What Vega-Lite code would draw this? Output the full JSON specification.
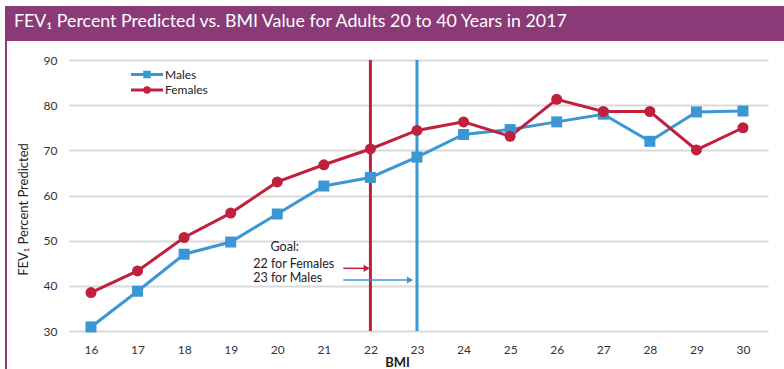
{
  "$schema": "https://vega.github.io/schema/vega-lite/v6.json",
  "padding": {"left": 5, "top": 6, "right": 0, "bottom": 0},
  "background": "white",
  "config": {
    "view": {"stroke": null},
    "font": "Lato",
    "concat": {"spacing": 0}
  },
  "datasets": {
    "fev": [
      {"bmi": 16, "sex": "Males", "fev": 30.9},
      {"bmi": 17, "sex": "Males", "fev": 38.8},
      {"bmi": 18, "sex": "Males", "fev": 47.0},
      {"bmi": 19, "sex": "Males", "fev": 49.7},
      {"bmi": 20, "sex": "Males", "fev": 55.9},
      {"bmi": 21, "sex": "Males", "fev": 62.1},
      {"bmi": 22, "sex": "Males", "fev": 64.0},
      {"bmi": 23, "sex": "Males", "fev": 68.5},
      {"bmi": 24, "sex": "Males", "fev": 73.5},
      {"bmi": 25, "sex": "Males", "fev": 74.6},
      {"bmi": 26, "sex": "Males", "fev": 76.3},
      {"bmi": 27, "sex": "Males", "fev": 78.0},
      {"bmi": 28, "sex": "Males", "fev": 72.0},
      {"bmi": 29, "sex": "Males", "fev": 78.5},
      {"bmi": 30, "sex": "Males", "fev": 78.7},
      {"bmi": 16, "sex": "Females", "fev": 38.5},
      {"bmi": 17, "sex": "Females", "fev": 43.3},
      {"bmi": 18, "sex": "Females", "fev": 50.7},
      {"bmi": 19, "sex": "Females", "fev": 56.1},
      {"bmi": 20, "sex": "Females", "fev": 63.0},
      {"bmi": 21, "sex": "Females", "fev": 66.8},
      {"bmi": 22, "sex": "Females", "fev": 70.3},
      {"bmi": 23, "sex": "Females", "fev": 74.4},
      {"bmi": 24, "sex": "Females", "fev": 76.3},
      {"bmi": 25, "sex": "Females", "fev": 73.1},
      {"bmi": 26, "sex": "Females", "fev": 81.3},
      {"bmi": 27, "sex": "Females", "fev": 78.6},
      {"bmi": 28, "sex": "Females", "fev": 78.6},
      {"bmi": 29, "sex": "Females", "fev": 70.1},
      {"bmi": 30, "sex": "Females", "fev": 75.0}
    ],
    "goals": [
      {"sex": "Females", "bmi": 22},
      {"sex": "Males", "bmi": 23}
    ],
    "arrows": [
      {"sex": "Females", "x1": 21.418, "x2": 21.92, "y": 43.87},
      {"sex": "Males", "x1": 21.418, "x2": 22.85, "y": 41.28}
    ],
    "notes": [
      {"t": "Goal:", "x": 19.856, "y": 47.78},
      {"t": "22 for Females", "x": 19.483, "y": 43.95},
      {"t": "23 for Males", "x": 19.483, "y": 40.85}
    ]
  },
  "spacing": 0,
  "bounds": "flush",
  "resolve": {"scale": {"color": "independent", "shape": "independent", "stroke": "independent"}, "legend": {"color": "independent", "shape": "independent", "stroke": "independent"}},
  "vconcat": [
    {
      "width": 779,
      "height": 35,
      "view": {"fill": "#8b3a78", "stroke": null},
      "title": {
        "text": "FEV₁ Percent Predicted vs. BMI Value for Adults 20 to 40 Years in 2017",
        "anchor": "start",
        "frame": "group",
        "orient": "top",
        "offset": -39,
        "dx": 9,
        "baseline": "alphabetic",
        "color": "white",
        "fontSize": 17.8,
        "font": "Lato",
        "fontWeight": "normal"
      },
      "data": {"values": []},
      "mark": "rect",
      "encoding": {}
    },
    {
      "spacing": 10,
      "resolve": {"scale": {"color": "independent", "shape": "independent", "stroke": "independent"}, "legend": {"color": "independent", "shape": "independent", "stroke": "independent"}},
      "hconcat": [
        {
          "width": 2,
          "height": 328,
          "view": {"fill": "#8b3a78", "stroke": null},
          "data": {"values": []},
          "mark": "rect",
          "encoding": {}
        },
        {
          "spacing": 0,
          "bounds": "flush",
          "resolve": {"scale": {"color": "independent", "shape": "independent", "stroke": "independent"}, "legend": {"color": "independent", "shape": "independent", "stroke": "independent"}},
          "vconcat": [
            {
              "width": 1,
              "height": 19,
              "data": {"values": []},
              "mark": "rect",
              "encoding": {}
            },
            {
              "width": 699,
              "height": 271,
              "layer": [
                {
                  "data": {"name": "goals"},
                  "mark": {"type": "rule", "strokeWidth": 3},
                  "encoding": {
                    "x": {
                      "field": "bmi", "type": "quantitative",
                      "scale": {"domain": [15.528, 30.537], "nice": false, "zero": false},
                      "axis": {
                        "values": [16, 17, 18, 19, 20, 21, 22, 23, 24, 25, 26, 27, 28, 29, 30],
                        "grid": false, "domain": false, "ticks": false, "tickSize": 0,
                        "labelPadding": 13, "labelFontSize": 12, "labelColor": "#333",
                        "title": "BMI", "titleFontSize": 13, "titleFontWeight": "bold",
                        "titleColor": "#222", "titleX": 328, "titleY": 35, "titleBaseline": "alphabetic"
                      }
                    },
                    "color": {
                      "field": "sex", "type": "nominal",
                      "scale": {"domain": ["Females", "Males"], "range": ["#c0203c", "#3b97d3"]},
                      "legend": null
                    }
                  }
                },
                {
                  "data": {"name": "arrows"},
                  "mark": {"type": "rule", "strokeWidth": 1.5},
                  "encoding": {
                    "x": {"field": "x1", "type": "quantitative"},
                    "x2": {"field": "x2"},
                    "y": {"field": "y", "type": "quantitative"},
                    "color": {"field": "sex", "type": "nominal", "legend": null}
                  }
                },
                {
                  "data": {"name": "arrows"},
                  "mark": {"type": "point", "shape": "triangle-right", "filled": true, "size": 50, "opacity": 1},
                  "encoding": {
                    "x": {"field": "x2", "type": "quantitative"},
                    "y": {"field": "y", "type": "quantitative"},
                    "color": {"field": "sex", "type": "nominal", "legend": null}
                  }
                },
                {
                  "data": {"name": "fev"},
                  "mark": {"type": "line", "strokeWidth": 3},
                  "encoding": {
                    "x": {"field": "bmi", "type": "quantitative"},
                    "y": {
                      "field": "fev", "type": "quantitative",
                      "scale": {"domain": [30, 90], "nice": false, "zero": false},
                      "axis": {
                        "values": [30, 40, 50, 60, 70, 80, 90],
                        "grid": true, "gridColor": "#dadada", "gridWidth": 2,
                        "domain": false, "ticks": false, "tickSize": 0,
                        "labelPadding": 12, "labelFontSize": 12, "labelColor": "#333",
                        "title": "FEV₁ Percent Predicted", "titleFontSize": 13,
                        "titleFontWeight": "normal", "titleColor": "#222",
                        "titlePadding": 13, "titleY": 149
                      }
                    },
                    "stroke": {
                      "field": "sex", "type": "nominal",
                      "scale": {"domain": ["Males", "Females"], "range": ["#3b97d3", "#c0203c"]},
                      "legend": {
                        "orient": "none", "legendX": 71.5, "legendY": 8,
                        "title": null, "labelFontSize": 12, "labelColor": "#222",
                        "symbolSize": 100, "symbolStrokeWidth": 3,
                        "labelOffset": 11.5, "rowPadding": -1.5, "padding": 0,
                        "encode": {
                          "symbols": {
                            "update": {
                              "shape": {"signal": "datum.value === 'Males' ? 'M-3.2,0H3.2M-0.45,-0.45H0.45V0.45H-0.45Z' : 'M-3.2,0H3.2M0.45,0A0.45,0.45 0 1,1 -0.45,0A0.45,0.45 0 1,1 0.45,0Z'"},
                              "fill": {"signal": "datum.value === 'Males' ? '#3b97d3' : '#c0203c'"},
                              "strokeWidth": {"value": 3},
                              "opacity": {"value": 1}
                            }
                          }
                        }
                      }
                    }
                  }
                },
                {
                  "data": {"name": "fev"},
                  "mark": {"type": "point", "filled": true, "size": 121, "opacity": 1},
                  "encoding": {
                    "x": {"field": "bmi", "type": "quantitative"},
                    "y": {"field": "fev", "type": "quantitative"},
                    "color": {"field": "sex", "type": "nominal", "legend": null},
                    "shape": {
                      "field": "sex", "type": "nominal",
                      "scale": {"domain": ["Females", "Males"], "range": ["circle", "square"]},
                      "legend": null
                    }
                  }
                },
                {
                  "data": {"name": "notes"},
                  "mark": {"type": "text", "align": "left", "baseline": "alphabetic", "fontSize": 12.5, "color": "#222"},
                  "encoding": {
                    "x": {"field": "x", "type": "quantitative"},
                    "y": {"field": "y", "type": "quantitative"},
                    "text": {"field": "t"}
                  }
                }
              ]
            }
          ]
        }
      ]
    }
  ]
}
